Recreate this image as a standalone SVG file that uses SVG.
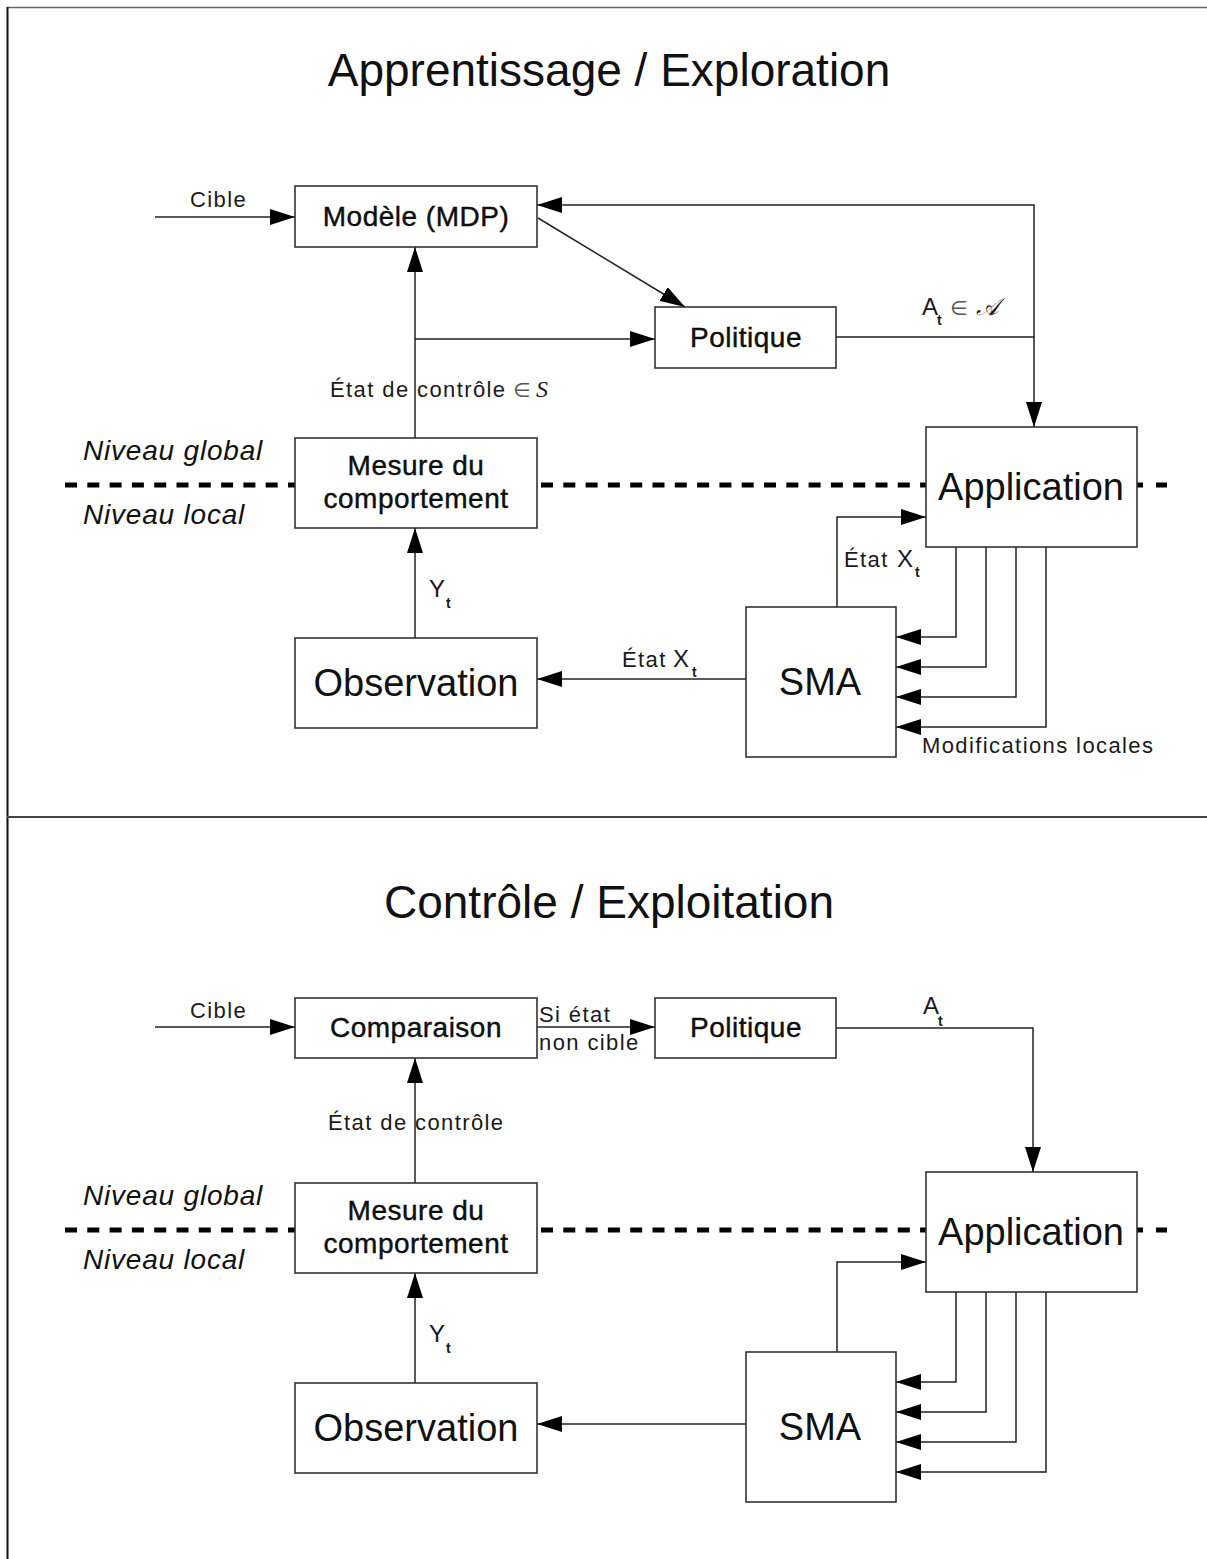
<svg xmlns="http://www.w3.org/2000/svg" width="1207" height="1559" viewBox="0 0 1207 1559">
<defs>
<style>
text{font-family:"Liberation Sans",Arial,sans-serif;fill:#111}
.title{font-size:46px;text-anchor:middle}
.nl{font-size:28px;letter-spacing:0.5px;text-anchor:middle;stroke:#000;stroke-width:0.4}
.bl{font-size:38px;text-anchor:middle}
.it{font-size:28px;font-style:italic;letter-spacing:0.8px}
.sl{font-size:22px;letter-spacing:1.4px;fill:#1a1a1a}
.ml{font-size:24px;fill:#1a1a1a}
.sub{font-size:14px;font-weight:bold}
.sym{font-family:"DejaVu Sans",sans-serif;font-size:20px;fill:#555;letter-spacing:0}
.cal{font-family:"DejaVu Serif","DejaVu Sans","Noto Sans",serif;font-size:24px;font-style:italic;letter-spacing:0}
.mi{font-family:"Liberation Serif",serif;font-style:italic;font-size:24px;letter-spacing:0}
.box{fill:#fff;stroke:#333;stroke-width:1.6}
.conn path{fill:none;stroke:#222;stroke-width:1.5}
.conn path.a{marker-end:url(#ah)}
.dash{fill:none;stroke:#000;stroke-width:5;stroke-dasharray:12 10.3}
.dashs{fill:none;stroke:#000;stroke-width:5}
.frame{fill:none;stroke:#444;stroke-width:2}
</style>
<marker id="ah" markerUnits="userSpaceOnUse" markerWidth="25" markerHeight="16" refX="25" refY="8" orient="auto" viewBox="0 0 25 16">
<path d="M0,0 L25,8 L0,16 z" fill="#000"/>
</marker>
</defs>
<rect x="0" y="0" width="1207" height="1559" fill="#fff"/>

<!-- frame -->
<path class="frame" d="M7 7.5 H1207" style="stroke:#666;stroke-width:1.5"/>
<path class="frame" d="M7.5 7 V1559" style="stroke:#111"/>
<path class="frame" d="M7 817 H1207"/>

<!-- titles -->
<text class="title" x="609" y="86">Apprentissage / Exploration</text>
<text class="title" x="609" y="918">Contrôle / Exploitation</text>

<!-- level separators -->
<g id="levels-top">
<path class="dash" d="M65 485 H295"/>
<path class="dash" d="M541 485 H926"/>
<path class="dashs" d="M1137 485 H1143 M1156 485 H1167"/>
<text class="it" x="83" y="460">Niveau global</text>
<text class="it" x="83" y="524">Niveau local</text>
</g>
<g id="levels-bottom">
<path class="dash" d="M65 1230 H295"/>
<path class="dash" d="M541 1230 H926"/>
<path class="dashs" d="M1137 1230 H1143 M1156 1230 H1167"/>
<text class="it" x="83" y="1205">Niveau global</text>
<text class="it" x="83" y="1269">Niveau local</text>
</g>

<!-- connectors -->
<g id="connectors" class="conn">
<!-- top -->
<path class="a" d="M155 217 H295"/>
<path class="a" d="M836 337 H1034 V427"/>
<path class="a" d="M1034 337 V205 H537"/>
<path class="a" d="M538 218 L685 307"/>
<path class="a" d="M415 438 V247"/>
<path class="a" d="M415 339 H655"/>
<path class="a" d="M415 638 V528"/>
<path class="a" d="M746 679 H537"/>
<path class="a" d="M837 607 V517 H926"/>
<path class="a" d="M956 547 V637 H896"/>
<path class="a" d="M986 547 V667 H896"/>
<path class="a" d="M1016 547 V697 H896"/>
<path class="a" d="M1046 547 V727 H896"/>
<!-- bottom -->
<path class="a" d="M155 1027 H295"/>
<path class="a" d="M537 1027 H655"/>
<path class="a" d="M836 1028 H1033 V1172"/>
<path class="a" d="M415 1183 V1058"/>
<path class="a" d="M415 1383 V1273"/>
<path class="a" d="M746 1424 H537"/>
<path class="a" d="M837 1352 V1262 H926"/>
<path class="a" d="M956 1292 V1382 H896"/>
<path class="a" d="M986 1292 V1412 H896"/>
<path class="a" d="M1016 1292 V1442 H896"/>
<path class="a" d="M1046 1292 V1472 H896"/>

<!-- connector labels top -->
<text class="sl" x="190" y="207">Cible</text>
<text class="sl" x="330" y="397">État de contrôle<tspan class="sym" x="513">∈</tspan><tspan class="mi" x="536">S</tspan></text>
<text class="ml" x="922" y="315">A<tspan class="sub" x="937" y="325">t</tspan><tspan class="sym" x="950" y="315">∈</tspan><tspan class="cal" x="976" y="315">𝒜</tspan></text>
<text class="ml" x="429" y="597">Y<tspan class="sub" x="446" y="608">t</tspan></text>
<text class="sl" x="844" y="567">État<tspan class="ml" x="897" style="letter-spacing:0">X</tspan><tspan class="sub" x="915" y="577" style="letter-spacing:0">t</tspan></text>
<text class="sl" x="622" y="667">État<tspan class="ml" x="673" style="letter-spacing:0">X</tspan><tspan class="sub" x="692" y="677" style="letter-spacing:0">t</tspan></text>
<text class="sl" x="922" y="753">Modifications locales</text>
<!-- connector labels bottom -->
<text class="sl" x="190" y="1018">Cible</text>
<text class="sl" x="539" y="1022">Si état</text>
<text class="sl" x="539" y="1050">non cible</text>
<text class="ml" x="923" y="1014">A<tspan class="sub" x="938" y="1026">t</tspan></text>
<text class="sl" x="328" y="1130">État de contrôle</text>
<text class="ml" x="429" y="1342">Y<tspan class="sub" x="446" y="1353">t</tspan></text>
</g>

<!-- nodes top -->
<g id="modele">
<rect class="box" x="295" y="186" width="242" height="61"/>
<text class="nl" x="416" y="226">Modèle (MDP)</text>
</g>
<g id="politique-top">
<rect class="box" x="655" y="307" width="181" height="61"/>
<text class="nl" x="746" y="347">Politique</text>
</g>
<g id="application-top">
<rect class="box" x="926" y="427" width="211" height="120"/>
<text class="bl" x="1031" y="500">Application</text>
</g>
<g id="mesure-top">
<rect class="box" x="295" y="438" width="242" height="90"/>
<text class="nl" x="416" y="475">Mesure du</text>
<text class="nl" x="416" y="508">comportement</text>
</g>
<g id="observation-top">
<rect class="box" x="295" y="638" width="242" height="90"/>
<text class="bl" x="416" y="696">Observation</text>
</g>
<g id="sma-top">
<rect class="box" x="746" y="607" width="150" height="150"/>
<text class="bl" x="820" y="695">SMA</text>
</g>

<!-- nodes bottom -->
<g id="comparaison">
<rect class="box" x="295" y="998" width="242" height="60"/>
<text class="nl" x="416" y="1037">Comparaison</text>
</g>
<g id="politique-bottom">
<rect class="box" x="655" y="998" width="181" height="60"/>
<text class="nl" x="746" y="1037">Politique</text>
</g>
<g id="application-bottom">
<rect class="box" x="926" y="1172" width="211" height="120"/>
<text class="bl" x="1031" y="1245">Application</text>
</g>
<g id="mesure-bottom">
<rect class="box" x="295" y="1183" width="242" height="90"/>
<text class="nl" x="416" y="1220">Mesure du</text>
<text class="nl" x="416" y="1253">comportement</text>
</g>
<g id="observation-bottom">
<rect class="box" x="295" y="1383" width="242" height="90"/>
<text class="bl" x="416" y="1441">Observation</text>
</g>
<g id="sma-bottom">
<rect class="box" x="746" y="1352" width="150" height="150"/>
<text class="bl" x="820" y="1440">SMA</text>
</g>
</svg>
